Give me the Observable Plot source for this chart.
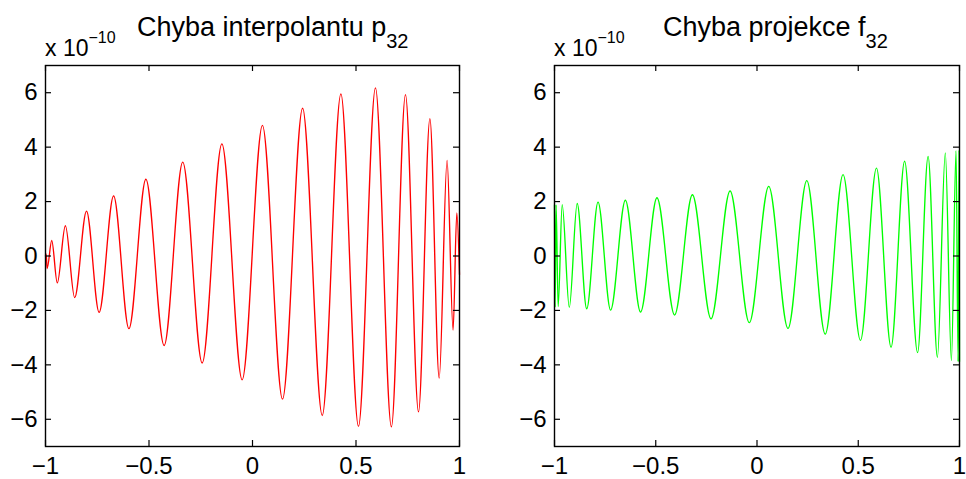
<!DOCTYPE html>
<html><head><meta charset="utf-8">
<script src="https://cdn.jsdelivr.net/npm/d3@7"></script>
<script src="https://cdn.jsdelivr.net/npm/@observablehq/plot@0.6"></script>
<style>
body{margin:0;background:#fff;}
#wrap{position:relative;width:966px;height:479px;overflow:hidden;font-family:"Liberation Sans",Arial,Helvetica,sans-serif;}
#wrap svg{position:absolute;top:0;}
</style></head><body><div id="wrap"></div>
<script>
// Axis ticks and labels
const xTicks = [-1, -0.5, 0, 0.5, 1];
const xTickLabels = ["\u22121", "\u22120.5", "0", "0.5", "1"];
const yTicks = [-6, -4, -2, 0, 2, 4, 6];
const yTickLabels = ["\u22126", "\u22124", "\u22122", "0", "2", "4", "6"];

// Titles
const titleLeft = "Chyba interpolantu p", titleLeftSub = "32";
const titleRight = "Chyba projekce f", titleRightSub = "32";
const scaleText = "x 10", scaleExp = "\u221210";

// Interpolation error p_32 (local extrema, units of 1e-10)
const interpX = [-1, -0.997, -0.992, -0.970, -0.943, -0.904, -0.859, -0.802, -0.741, -0.671, -0.597, -0.515, -0.427, -0.337, -0.243, -0.148, -0.050, 0.048, 0.145, 0.242, 0.337, 0.427, 0.512, 0.594, 0.671, 0.739, 0.802, 0.857, 0.902, 0.940, 0.969, 0.987, 1.0];
const interpY = [0, 0.08, -0.46, 0.57, -0.99, 1.11, -1.53, 1.65, -2.07, 2.21, -2.67, 2.82, -3.29, 3.45, -3.93, 4.12, -4.55, 4.80, -5.26, 5.43, -5.86, 5.96, -6.26, 6.18, -6.28, 5.93, -5.73, 5.05, -4.49, 3.51, -2.72, 1.58, -0.68];

// Projection error f_32 (local extrema, units of 1e-10)
const projX = [-1, -0.997, -0.992, -0.982, -0.962, -0.927, -0.888, -0.841, -0.785, -0.723, -0.650, -0.575, -0.494, -0.407, -0.319, -0.227, -0.133, -0.038, 0.058, 0.153, 0.246, 0.337, 0.425, 0.511, 0.590, 0.662, 0.729, 0.793, 0.845, 0.891, 0.930, 0.960, 0.983, 0.993, 0.998, 1.0];
const projY = [1.88, -1.88, 1.88, -1.86, 1.89, -1.89, 1.93, -1.94, 1.98, -1.99, 2.05, -2.06, 2.14, -2.17, 2.25, -2.31, 2.39, -2.45, 2.56, -2.66, 2.77, -2.87, 2.99, -3.10, 3.23, -3.35, 3.48, -3.55, 3.66, -3.72, 3.79, -3.84, 3.87, -3.88, 3.88, -3.88];

const FONT = '"Liberation Sans", Arial, Helvetica, sans-serif';
const wrap = document.getElementById("wrap");
const xLab = new Map(xTicks.map((t, i) => [t, xTickLabels[i]]));
const yLab = new Map(yTicks.map((t, i) => [t, yTickLabels[i]]));

function panel(xs, ys, color, left, mL, mR) {
  const W = 483, H = 479, mT = 65, mB = 33, tick = 6;
  const pw = W - mL - mR, ph = H - mT - mB;
  const data = xs.map((x, i) => ({x, y: ys[i]}));
  const svg = Plot.plot({
    width: W, height: H,
    marginLeft: mL, marginRight: mR, marginTop: mT, marginBottom: mB,
    style: {fontFamily: FONT, fontSize: "24px", color: "black", background: "transparent", overflow: "visible"},
    x: {domain: [-1, 1], label: null},
    y: {domain: [-7, 7], label: null},
    marks: [
      Plot.line(data, {x: "x", y: "y", stroke: color, strokeWidth: 1.35, curve: "monotone-x"}),
      Plot.tickY(yTicks, {stroke: "black", strokeWidth: 1.2, insetRight: pw - tick}),
      Plot.tickY(yTicks, {stroke: "black", strokeWidth: 1.2, insetLeft: pw - tick}),
      Plot.tickX(xTicks, {stroke: "black", strokeWidth: 1.2, insetTop: ph - tick}),
      Plot.tickX(xTicks, {stroke: "black", strokeWidth: 1.2, insetBottom: ph - tick}),
      Plot.axisX(xTicks, {tickSize: 0, tickPadding: 10, label: null, fontSize: 24, fill: "black", tickFormat: d => xLab.get(d)}),
      Plot.axisY(yTicks, {tickSize: 0, tickPadding: 8, label: null, fontSize: 24, fill: "black", tickFormat: d => yLab.get(d)}),
      Plot.frame({stroke: "black", strokeWidth: 1.4})
    ]
  });
  svg.style.left = left + "px";
  wrap.appendChild(svg);
}

panel(interpX, interpY, "#ff0000", 0, 45, 24);
panel(projX, projY, "#00ff00", 483, 71, 7);

// Titles and exponent labels
const ov = d3.select(wrap).append("svg")
  .attr("width", 966).attr("height", 479)
  .style("left", "0px").style("font-family", FONT).attr("fill", "black");

function header(x0, tx, title, sub) {
  const s = ov.append("text").attr("x", x0).attr("y", 56).attr("font-size", 23);
  s.append("tspan").text(scaleText);
  s.append("tspan").attr("font-size", 16).attr("dy", -13).text(scaleExp);
  const t = ov.append("text").attr("x", tx).attr("y", 36).attr("font-size", 27);
  t.append("tspan").text(title);
  t.append("tspan").attr("font-size", 20).attr("dy", 12).text(sub);
}
header(45, 137, titleLeft, titleLeftSub);
header(554, 663, titleRight, titleRightSub);
</script>
</body></html>
